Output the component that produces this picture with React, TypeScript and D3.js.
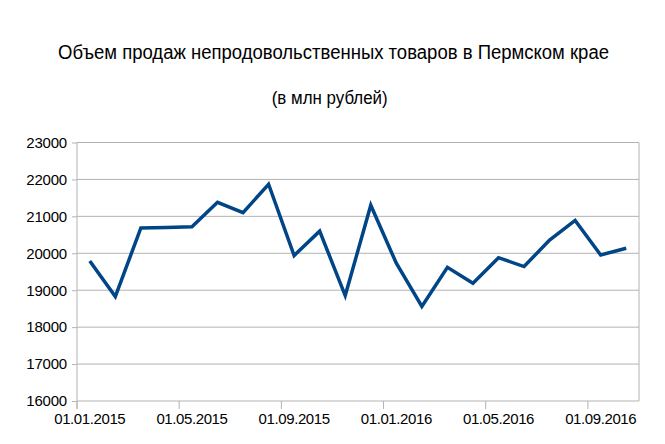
import { useEffect, useRef } from "react"
import * as d3 from "d3"

const months = [
  "01.01.2015", "01.02.2015", "01.03.2015", "01.04.2015", "01.05.2015", "01.06.2015",
  "01.07.2015", "01.08.2015", "01.09.2015", "01.10.2015", "01.11.2015", "01.12.2015",
  "01.01.2016", "01.02.2016", "01.03.2016", "01.04.2016", "01.05.2016", "01.06.2016",
  "01.07.2016", "01.08.2016", "01.09.2016", "01.10.2016",
]
const sales = [
  19790, 18830, 20685, 20700, 20720, 21380, 21100, 21870, 19940, 20600, 18855,
  21300, 19730, 18560, 19620, 19190, 19880, 19640, 20360, 20890, 19955, 20135,
]
const yTicks = [16000, 17000, 18000, 19000, 20000, 21000, 22000, 23000]
const title = "Объем продаж непродовольственных товаров в Пермском крае"
const subtitle = "(в млн рублей)"

const W = 665, H = 444
const font = "'Liberation Sans', Arial, sans-serif"

export default function App() {
  const ref = useRef<SVGSVGElement>(null)
  useEffect(() => {
    document.body.style.margin = "0"
    if (!ref.current) return
    const m = { top: 142.5, right: 26, bottom: 43, left: 77 }
    const svg = d3.select(ref.current)
    svg.selectAll("*").remove()

    const x = d3.scaleBand<string>().domain(months).range([m.left, W - m.right])
    const y = d3.scaleLinear().domain([16000, 23000]).range([H - m.bottom, m.top])
    const cx = (d: string) => x(d)! + x.bandwidth() / 2

    svg.append("rect").attr("width", W).attr("height", H).attr("fill", "#fff")

    svg.append("text").attr("x", 333.5).attr("y", 59).attr("text-anchor", "middle")
      .attr("textLength", 551).attr("lengthAdjust", "spacingAndGlyphs")
      .style("font-family", font).style("font-size", "20px").style("fill", "#000").text(title)
    svg.append("text").attr("x", 329.7).attr("y", 104).attr("text-anchor", "middle")
      .attr("textLength", 116).attr("lengthAdjust", "spacingAndGlyphs")
      .style("font-family", font).style("font-size", "18px").style("fill", "#000").text(subtitle)

    // grid + y axis
    svg.append("g").attr("transform", `translate(${m.left},0)`)
      .call(d3.axisLeft(y).tickValues(yTicks).tickSize(5).tickPadding(5).tickFormat(d3.format("d")))
      .call(g => {
        g.select(".domain").remove()
        g.selectAll(".tick line").style("stroke", "#b3b3b3")
        g.selectAll("text").style("fill", "#000").style("font-size", "15px").style("font-family", font)
          .attr("letter-spacing", "-0.2")
      })
    svg.append("g").selectAll("line").data(yTicks).join("line")
      .attr("x1", m.left).attr("x2", W - m.right).attr("y1", d => y(d)).attr("y2", d => y(d))
      .style("stroke", "#b3b3b3").style("stroke-width", 1)
    svg.append("line").attr("x1", m.left).attr("x2", m.left).attr("y1", m.top).attr("y2", H - m.bottom + 8)
      .style("stroke", "#b3b3b3")
    svg.append("line").attr("x1", W - m.right).attr("x2", W - m.right).attr("y1", m.top).attr("y2", H - m.bottom)
      .style("stroke", "#b3b3b3")

    // x axis: ticks at the start of every 4th month, labels centred on it
    const shown = months.filter((_, i) => i % 4 === 0)
    const xa = svg.append("g")
    xa.selectAll("line").data(shown).join("line")
      .attr("x1", d => x(d)!).attr("x2", d => x(d)!)
      .attr("y1", H - m.bottom).attr("y2", H - m.bottom + 8).style("stroke", "#b3b3b3")
    xa.selectAll("text").data(shown).join("text")
      .attr("x", d => cx(d)).attr("y", 423.5).attr("text-anchor", "middle")
      .attr("letter-spacing", "-0.4")
      .style("font-family", font).style("font-size", "15px").style("fill", "#000").text(d => d)

    svg.append("path").datum(sales).attr("fill", "none").attr("stroke", "#004586")
      .attr("stroke-width", 3.5).attr("stroke-linejoin", "miter")
      .attr("d", d3.line<number>().x((_, i) => cx(months[i])).y(d => y(d)))
  }, [])
  return <svg ref={ref} width={W} height={H} style={{ display: "block" }} />
}
